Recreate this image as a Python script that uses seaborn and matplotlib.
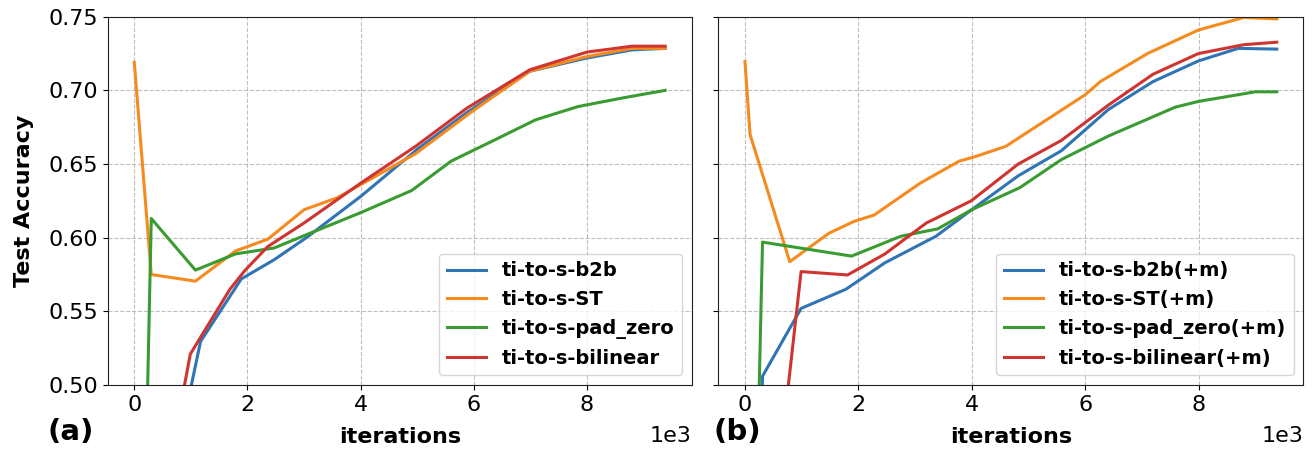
import matplotlib
matplotlib.use("Agg")
import matplotlib.pyplot as plt
import seaborn as sns
import pandas as pd

# ---------------- data: panel (a) ----------------
a_b2b_x = [300, 1170, 1890, 2470, 3040, 4000, 5000, 5880, 6990, 8000, 8800, 9380]
a_b2b_y = [0.37, 0.5295, 0.572, 0.585, 0.600, 0.628, 0.660, 0.685, 0.713, 0.722, 0.7275, 0.7285]

a_st_x = [0, 300, 1080, 1790, 2360, 3000, 3580, 4000, 4970, 5980, 6990, 8000, 8800, 9380]
a_st_y = [0.719, 0.575, 0.5705, 0.591, 0.599, 0.619, 0.627, 0.636, 0.657, 0.686, 0.713, 0.723, 0.7285, 0.7285]

a_pz_x = [0, 300, 1080, 1790, 2470, 3040, 4000, 4900, 5600, 6350, 7090, 7840, 8650, 9380]
a_pz_y = [0.08, 0.613, 0.578, 0.589, 0.593, 0.602, 0.617, 0.632, 0.652, 0.666, 0.680, 0.689, 0.695, 0.700]

a_bl_x = [300, 990, 1180, 1690, 1960, 2360, 3000, 4000, 4970, 5880, 6990, 8000, 8800, 9380]
a_bl_y = [0.38, 0.521, 0.533, 0.565, 0.578, 0.594, 0.610, 0.637, 0.662, 0.688, 0.714, 0.726, 0.730, 0.730]

a_names = ["ti-to-s-b2b", "ti-to-s-ST", "ti-to-s-pad_zero", "ti-to-s-bilinear"]

# ---------------- data: panel (b) ----------------
b_b2b_x = [0, 310, 990, 1780, 2470, 3370, 4000, 4820, 5580, 6410, 7200, 8000, 8700, 9380]
b_b2b_y = [0.10, 0.506, 0.552, 0.565, 0.583, 0.601, 0.619, 0.642, 0.659, 0.687, 0.706, 0.720, 0.7285, 0.728]

b_st_x = [0, 90, 790, 1480, 1920, 2280, 3090, 3780, 4060, 4600, 5440, 6000, 6270, 7100, 8000, 8800, 9380]
b_st_y = [0.7195, 0.670, 0.5837, 0.603, 0.611, 0.6154, 0.637, 0.652, 0.655, 0.662, 0.683, 0.697, 0.706, 0.725, 0.741, 0.7495, 0.7485]

b_pz_x = [0, 310, 1880, 2750, 3400, 4000, 4850, 5580, 6410, 7590, 8000, 9000, 9380]
b_pz_y = [0.08, 0.597, 0.5875, 0.601, 0.606, 0.619, 0.634, 0.653, 0.669, 0.6886, 0.6925, 0.699, 0.699]

b_bl_x = [300, 990, 1810, 2470, 3200, 3990, 4820, 5580, 6410, 7200, 8000, 8800, 9380]
b_bl_y = [0.34, 0.577, 0.5747, 0.589, 0.610, 0.625, 0.650, 0.666, 0.690, 0.711, 0.725, 0.731, 0.7327]

b_names = ["ti-to-s-b2b(+m)", "ti-to-s-ST(+m)", "ti-to-s-pad_zero(+m)", "ti-to-s-bilinear(+m)"]

colors = ["#2f74b5", "#f58a1f", "#3a9b32", "#cf3530"]


def frame(xs, ys, names):
    rows = []
    for x, y, n in zip(xs, ys, names):
        for xi, yi in zip(x, y):
            rows.append({"iterations": xi, "acc": yi, "method": n})
    return pd.DataFrame(rows)


df_a = frame([a_b2b_x, a_st_x, a_pz_x, a_bl_x], [a_b2b_y, a_st_y, a_pz_y, a_bl_y], a_names)
df_b = frame([b_b2b_x, b_st_x, b_pz_x, b_bl_x], [b_b2b_y, b_st_y, b_pz_y, b_bl_y], b_names)

plt.rcParams["font.family"] = ["DejaVu Sans"]
fs = 16

fig = plt.figure(figsize=(13.14, 4.55), dpi=100)
ax1 = fig.add_axes([0.082, 0.1538, 0.4444, 0.8095])
ax2 = fig.add_axes([0.5467, 0.1538, 0.4452, 0.8095], sharey=ax1)

for ax, df, names, tag, tx in [(ax1, df_a, a_names, "(a)", 0.0535), (ax2, df_b, b_names, "(b)", 0.5615)]:
    sns.lineplot(data=df, x="iterations", y="acc", hue="method", hue_order=names,
                 palette=colors, estimator=None, sort=False, linewidth=2.2, ax=ax)
    ax.set_ylim(0.5, 0.75)
    ax.set_xticks([0, 2000, 4000, 6000, 8000])
    ax.ticklabel_format(axis="x", style="sci", scilimits=(3, 3))
    ax.xaxis.get_offset_text().set_fontsize(fs)
    ax.xaxis.OFFSETTEXTPAD = 8
    ax.tick_params(labelsize=fs)
    for sp in ax.spines.values():
        sp.set_color("#222222")
    ax.grid(True, linestyle="--", color="#b0b0b0", linewidth=0.8, alpha=0.8)
    ax.set_xlabel("iterations", fontsize=fs, fontweight="bold", labelpad=8.5)
    handles, labels = ax.get_legend_handles_labels()
    ax.legend(handles, labels, loc="lower right", prop={"weight": "bold", "size": 14})
    fig.text(tx, 0.05, tag, fontsize=21, fontweight="bold", ha="center", va="center")

ax1.set_ylabel("Test Accuracy", fontsize=fs, fontweight="bold", labelpad=10.5)
ax2.set_ylabel("")
ax1.set_yticks([0.50, 0.55, 0.60, 0.65, 0.70, 0.75])
ax1.set_yticklabels(["0.50", "0.55", "0.60", "0.65", "0.70", "0.75"])
ax2.tick_params(axis="y", labelleft=False)

fig.savefig("out.png", dpi=100)
